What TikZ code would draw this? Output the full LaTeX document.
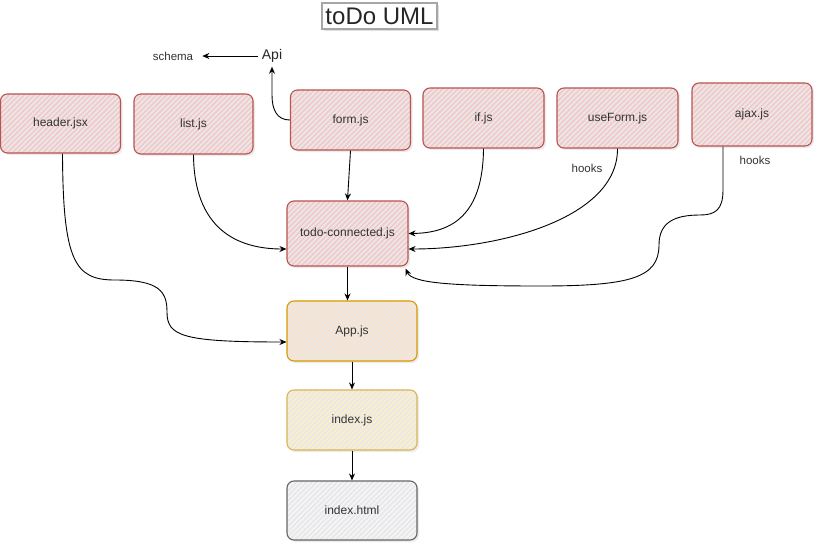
\documentclass[tikz,border=0pt]{standalone}
\usepackage{fontspec}
\setmainfont{Liberation Sans}
\usetikzlibrary{arrows.meta,patterns.meta,shadows,calc}

\definecolor{redS}{HTML}{B85450}
\definecolor{redL}{HTML}{F6C6C4}
\definecolor{oraS}{HTML}{D79B00}
\definecolor{oraL}{HTML}{FFE2C4}
\definecolor{yelS}{HTML}{D6B656}
\definecolor{yelL}{HTML}{FFF0C4}
\definecolor{grS}{HTML}{666666}
\definecolor{grL}{HTML}{F6F6F6}
\definecolor{baseG}{HTML}{E8E8EB}
\definecolor{txt}{HTML}{333333}

\begin{document}
\begin{tikzpicture}[x=1pt,y=-1pt,
  box/.style={rounded corners=7pt, line width=1.1pt, minimum width=120pt, minimum height=60pt,
    inner sep=0pt, font=\fontsize{12}{14}\selectfont, text=txt,
    drop shadow={shadow xshift=2pt, shadow yshift=-2pt, opacity=0.15},
    preaction={fill=baseG},
    pattern={Lines[angle=45,distance=3.6pt,line width=1.5pt]}},
  redbox/.style={box, draw=redS, pattern color=redL},
  orabox/.style={box, draw=oraS, pattern color=oraL, minimum width=130pt},
  yelbox/.style={box, draw=yelS, pattern color=yelL, minimum width=130pt},
  grybox/.style={box, draw=grS, pattern color=grL, minimum width=130pt},
  lbl/.style={font=\fontsize{11.5}{13}\selectfont, text=txt, inner sep=4pt},
  conn/.style={draw=black, line width=0.9pt, -{Stealth[length=7pt,width=6pt]}}
]
\fill[white] (0,0) rectangle (823,552);
\useasboundingbox (0,0) rectangle (823,552);

% title
\node[draw=gray!70, line width=1.2pt, fill=white, minimum width=115pt, minimum height=26pt, inner sep=0pt,
  drop shadow={shadow xshift=2pt, shadow yshift=-2pt, opacity=0.25},
  font=\fontsize{24}{26}\selectfont, text=black!85] (title) at (379.5,16) {toDo UML};

% top row
\node[redbox, minimum height=59pt] (header) at (60.5,123.5) {header.jsx};
\node[redbox, minimum width=119pt] (list) at (193.5,124) {list.js};
\node[redbox] (form) at (350.5,120) {form.js};
\node[redbox, minimum width=121pt] (ifjs) at (483.5,118) {if.js};
\node[redbox, minimum width=121pt] (useform) at (617.5,118) {useForm.js};
\node[redbox, minimum height=63pt] (ajax) at (752,114.5) {ajax.js};

% middle column
\node[redbox, minimum width=121pt, minimum height=65pt] (todo) at (347.5,233.5) {todo-connected.js};
\node[orabox] (App) at (352,331) {App.js};
\node[yelbox] (idxjs) at (352,420) {index.js};
\node[grybox, minimum height=59pt] (idxhtml) at (352,510.5) {index.html};

% labels
\node[font=\fontsize{14}{16}\selectfont, text=black!85, inner sep=4pt] (api) at (272,56) {Api};
\node[lbl] (schema) at (173,56) {schema};
\node[lbl] (hk1) at (587,168) {hooks};
\node[lbl] (hk2) at (755,160) {hooks};

% connectors
\draw[conn, shorten >=5pt] (api.west) -- (schema.east);
\draw[conn] (form.west) .. controls (277,120) and (272,110) .. (272,95) -- (api.south);

\draw[conn] ([xshift=2pt]header.south) .. controls (63,262) and (75,280) .. (115,280)
  .. controls (160,280) and (167,292) .. (167,312)
  .. controls (167,336) and (182,342) .. ($(App.west)+(0,11)$);

\draw[conn] (list.south) .. controls (194,228) and (236,249) .. ($(todo.west)+(0,15.5)$);
\draw[conn] (form.south) -- (todo.north);
\draw[conn] (ifjs.south) .. controls (483,215) and (452,233) .. (todo.east);
\draw[conn] (useform.south) .. controls (618,218) and (500,249) .. ($(todo.east)+(0,15.5)$);
\draw[conn] ($(ajax.south)+(-29,0)$) -- (723,190)
  .. controls (723,210) and (715,215) .. (700,215)
  .. controls (675,215) and (659,222) .. (659,245)
  .. controls (659,278) and (630,286) .. (540,286)
  .. controls (450,286) and (412,283) .. ($(todo.south east)+(-3,2)$);

\draw[conn] (todo.south) -- (todo.south |- App.north);
\draw[conn] (App.south) -- (idxjs.north);
\draw[conn] (idxjs.south) -- (idxhtml.north);
\end{tikzpicture}
\end{document}
